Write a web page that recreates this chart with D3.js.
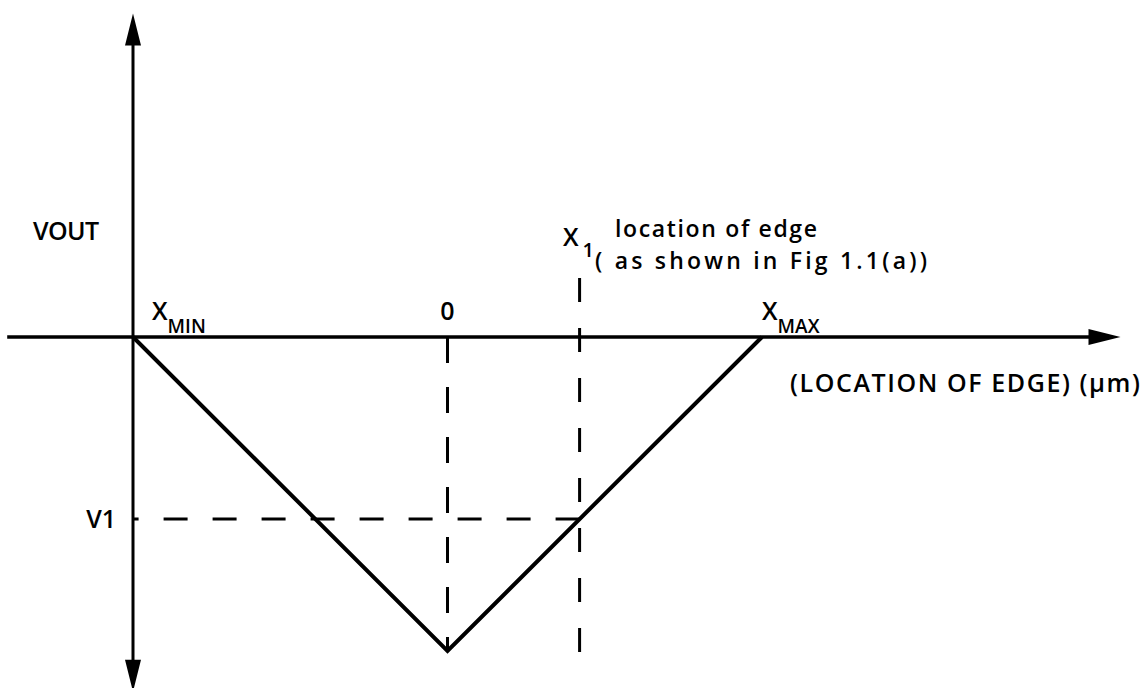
<!DOCTYPE html>
<html>
<head>
<meta charset="utf-8">
<script src="https://cdn.jsdelivr.net/npm/d3@7"></script>
<style>
  body { margin: 0; background: #fff; }
  text { font-family: "Open Sans", sans-serif; font-weight: 600; fill: #000; }
</style>
</head>
<body>
<div id="chart"></div>
<script>
// VOUT against location of edge, normalised units (XMIN = -1, XMAX = 1)
const edgeX = [-1, 0, 1];
const vout = [0, -1, 0];
const v1 = -0.58;        // V1 = VOUT at X1
const x1 = 1 + v1;       // X1, location of edge (on the rising branch)
const xTicks = [
  { v: -1, main: "X", sub: "MIN" },
  { v: 0, main: "0", sub: "" },
  { v: 1, main: "X", sub: "MAX" }
];
const xExtent = [-1.4, 2.14];
const yExtent = [1.03, -1.13];

const width = 1145, height = 688;

const svg = d3.select("#chart")
  .append("svg")
  .attr("width", width)
  .attr("height", height);

const x = d3.scaleLinear().domain([-1, 1]).range([133, 762]);
const y = d3.scaleLinear().domain([0, -1]).range([337, 651]);

const x0 = x(-1), y0 = y(0);

// axes with arrowheads
const arrowLen = 32, arrowHalf = 8;
svg.append("line")
  .attr("x1", x(xExtent[0])).attr("x2", x(xExtent[1]) - arrowLen + 2)
  .attr("y1", y0).attr("y2", y0)
  .attr("stroke", "#000").attr("stroke-width", 3.5);
svg.append("path")
  .attr("d", `M${x(xExtent[1])},${y0} L${x(xExtent[1]) - arrowLen},${y0 - arrowHalf} L${x(xExtent[1]) - arrowLen},${y0 + arrowHalf} Z`)
  .attr("fill", "#000");

svg.append("line")
  .attr("x1", x0).attr("x2", x0)
  .attr("y1", y(yExtent[0]) + arrowLen - 2).attr("y2", y(yExtent[1]) - arrowLen + 2)
  .attr("stroke", "#000").attr("stroke-width", 3);
svg.append("path")
  .attr("d", `M${x0},${y(yExtent[0])} L${x0 - arrowHalf},${y(yExtent[0]) + arrowLen} L${x0 + arrowHalf},${y(yExtent[0]) + arrowLen} Z`)
  .attr("fill", "#000");
svg.append("path")
  .attr("d", `M${x0},${y(yExtent[1])} L${x0 - arrowHalf},${y(yExtent[1]) - arrowLen} L${x0 + arrowHalf},${y(yExtent[1]) - arrowLen} Z`)
  .attr("fill", "#000");

// dashed guides
svg.append("line")
  .attr("x1", x(0)).attr("x2", x(0))
  .attr("y1", y0).attr("y2", y(-1))
  .attr("stroke", "#000").attr("stroke-width", 3)
  .attr("stroke-dasharray", "26,24");

svg.append("line")
  .attr("x1", x(x1)).attr("x2", x(x1))
  .attr("y1", 278).attr("y2", 672)
  .attr("stroke", "#000").attr("stroke-width", 3)
  .attr("stroke-dasharray", "24,26,24,26,24,26,24,26,24,26,24,26,24,26,24,28,3,100");

svg.append("line")
  .attr("x1", x(x1)).attr("x2", x0)
  .attr("y1", y(v1)).attr("y2", y(v1))
  .attr("stroke", "#000").attr("stroke-width", 3)
  .attr("stroke-dasharray", "24,25");

// the V response
const line = d3.line()
  .x((d, i) => x(edgeX[i]))
  .y(d => y(d));
svg.append("path")
  .datum(vout)
  .attr("d", line)
  .attr("fill", "none")
  .attr("stroke", "#000")
  .attr("stroke-width", 4)
  .attr("stroke-linejoin", "miter");

// tick labels on the x axis
const tk = svg.selectAll(".tick-label")
  .data(xTicks)
  .enter()
  .append("text")
  .attr("class", "tick-label")
  .attr("x", d => d.sub ? x(d.v) + (d.v < 0 ? 19 : 0) : x(d.v))
  .attr("y", y0 - 17)
  .attr("text-anchor", d => d.sub ? "start" : "middle")
  .style("font-size", "25px");
tk.append("tspan").text(d => d.main);
tk.append("tspan")
  .attr("dy", 13)
  .style("font-size", "19px")
  .text(d => d.sub);

// y labels
svg.append("text")
  .attr("x", 33).attr("y", 240)
  .style("font-size", "25px")
  .attr("textLength", 66)
  .text("VOUT");
svg.append("text")
  .attr("x", x0 - 17).attr("y", y(v1) + 9)
  .attr("text-anchor", "end")
  .style("font-size", "25px")
  .text("V1");

// X1 annotation
svg.append("text")
  .attr("x", x(x1) - 1).attr("y", 246)
  .attr("text-anchor", "end")
  .style("font-size", "25px")
  .text("X");
svg.append("text")
  .attr("x", x(x1) + 3).attr("y", 257)
  .style("font-size", "20px")
  .text("1");
svg.append("text")
  .attr("x", 615).attr("y", 237)
  .style("font-size", "23px")
  .attr("textLength", 202)
  .text("location of edge");
svg.append("text")
  .attr("x", 595).attr("y", 269)
  .style("font-size", "23px")
  .attr("textLength", 332)
  .text("( as shown in Fig 1.1(a))");

// x axis title
svg.append("text")
  .attr("x", 1140).attr("y", 392)
  .attr("text-anchor", "end")
  .style("font-size", "25px")
  .attr("textLength", 350)
  .text("(LOCATION OF EDGE) (\u03bcm)");
</script>
</body>
</html>
